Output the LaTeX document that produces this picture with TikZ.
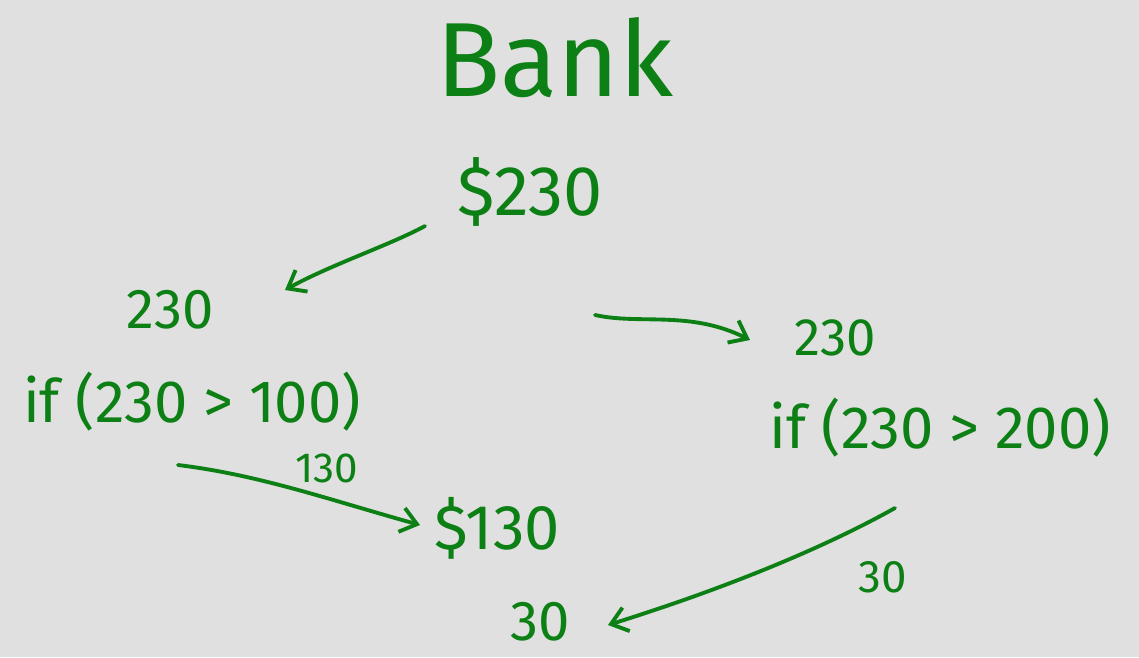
\documentclass[tikz,border=0pt]{standalone}
\usepackage{fontspec}
\setmainfont{Fira Sans}
\usetikzlibrary{arrows.meta}
\definecolor{ink}{RGB}{12,128,20}
\definecolor{bg}{RGB}{224,224,224}
\tikzset{
  lbl/.style={text=ink, inner sep=0pt, anchor=center},
  pen/.style={draw=ink, line width=2.2pt, line cap=round, -{Straight Barb[length=9pt,width=14pt,line width=2.2pt]}}
}
\begin{document}
\begin{tikzpicture}[x=0.02cm,y=-0.02cm]
\fill[bg] (0,0) rectangle (1139,657);
\useasboundingbox (0,0) rectangle (1139,657);
\node[lbl,font=\fontsize{60}{68}\selectfont] (bank) at (555,58) {Bank};
\node[lbl,font=\fontsize{40}{46}\selectfont] (top) at (530,192) {\$230};
\node[lbl,font=\fontsize{32}{38}\selectfont] (l1) at (170,310) {230};
\node[lbl,font=\fontsize{34}{40}\selectfont] (l2) at (192,402) {if (230 > 100)};
\node[lbl,font=\fontsize{24}{30}\selectfont] (l3) at (327,468) {130};
\node[lbl,font=\fontsize{36}{42}\selectfont] (mid) at (497,528) {\$130};
\node[lbl,font=\fontsize{30}{36}\selectfont] (r1) at (835,338) {230};
\node[lbl,font=\fontsize{34}{40}\selectfont] (r2) at (940,428) {if (230 > 200)};
\node[lbl,font=\fontsize{26}{32}\selectfont] (r3) at (883,577) {30};
\node[lbl,font=\fontsize{32}{38}\selectfont] (bot) at (540,622) {30};
\coordinate (a1s) at (425,226); \coordinate (a1e) at (285,290);
\coordinate (a2s) at (595,315); \coordinate (a2e) at (750,340);
\coordinate (a3s) at (178,465); \coordinate (a3e) at (420,525);
\coordinate (a4s) at (895,508); \coordinate (a4e) at (608,625);
\draw[pen] (a1s) .. controls (390,245) and (330,265) .. (a1e);
\draw[pen] (a2s) .. controls (640,325) and (690,310) .. (a2e);
\draw[pen] (a3s) .. controls (260,475) and (330,500) .. (a3e);
\draw[pen] (a4s) .. controls (820,550) and (720,590) .. (a4e);
\end{tikzpicture}
\end{document}
